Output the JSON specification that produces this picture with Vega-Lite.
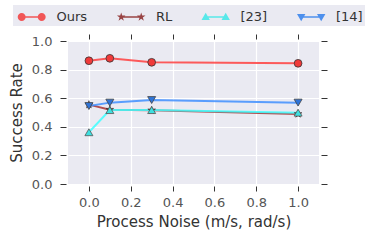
{
  "$schema": "https://vega.github.io/schema/vega-lite/v6.json",
  "width": 251,
  "height": 143,
  "autosize": {"type": "none"},
  "padding": {"left": 68, "top": 41, "right": 64, "bottom": 58},
  "background": "white",
  "config": {
    "view": {"fill": "#eaeaf2", "stroke": null},
    "font": "DejaVu Sans",
    "axis": {
      "labelFont": "DejaVu Sans",
      "labelFontSize": 13,
      "labelColor": "#555555",
      "titleFont": "DejaVu Sans",
      "titleFontSize": 15,
      "titleFontWeight": "normal",
      "titleColor": "#333333",
      "tickColor": "#333333",
      "tickWidth": 1,
      "domain": false,
      "gridColor": "#ffffff",
      "gridWidth": 1.2,
      "gridOpacity": 1
    }
  },
  "data": {
    "values": [
      {"method": "Ours", "x": 0.0, "y": 0.862},
      {"method": "Ours", "x": 0.1, "y": 0.879},
      {"method": "Ours", "x": 0.3, "y": 0.851},
      {"method": "Ours", "x": 1.0, "y": 0.844},
      {"method": "RL", "x": 0.0, "y": 0.555},
      {"method": "RL", "x": 0.1, "y": 0.52},
      {"method": "RL", "x": 0.3, "y": 0.516},
      {"method": "RL", "x": 1.0, "y": 0.49},
      {"method": "[23]", "x": 0.0, "y": 0.362},
      {"method": "[23]", "x": 0.1, "y": 0.517},
      {"method": "[23]", "x": 0.3, "y": 0.517},
      {"method": "[23]", "x": 1.0, "y": 0.499},
      {"method": "[14]", "x": 0.0, "y": 0.545},
      {"method": "[14]", "x": 0.1, "y": 0.569},
      {"method": "[14]", "x": 0.3, "y": 0.587},
      {"method": "[14]", "x": 1.0, "y": 0.569}
    ]
  },
  "resolve": {"axis": {"x": "independent", "y": "independent"}},
  "layer": [
    {
      "mark": {"type": "line", "strokeWidth": 2, "opacity": 0.85},
      "encoding": {
        "x": {
          "field": "x", "type": "quantitative",
          "scale": {"domain": [-0.1, 1.1], "nice": false, "zero": false},
          "axis": {
            "orient": "bottom", "values": [0, 0.2, 0.4, 0.6, 0.8, 1.0], "format": ".1f",
            "offset": 2, "tickSize": 5, "labelPadding": 5, "titlePadding": 5,
            "title": "Process Noise (m/s, rad/s)", "grid": true
          }
        },
        "y": {
          "field": "y", "type": "quantitative",
          "scale": {"domain": [0, 1.0], "nice": false},
          "axis": {
            "orient": "left", "values": [0, 0.2, 0.4, 0.6, 0.8, 1.0], "format": ".1f",
            "offset": 2, "tickSize": 6, "labelPadding": 8, "titlePadding": 7,
            "title": "Success Rate", "grid": true
          }
        },
        "color": {
          "field": "method", "type": "nominal",
          "scale": {"domain": ["Ours", "RL", "[23]", "[14]"], "range": ["#ff4040", "#a83232", "#40ffff", "#3f8fff"]},
          "legend": {
            "orient": "none",
            "legendX": -55,
            "legendY": -36,
            "direction": "horizontal",
            "columns": 4,
            "columnPadding": 26.5,
            "rowPadding": 0,
            "title": null,
            "padding": 2,
            "fillColor": "#eaeaf2",
            "strokeColor": null,
            "symbolSize": 400,
            "symbolStrokeWidth": 0,
            "labelOffset": 21.5,
            "labelFont": "DejaVu Sans",
            "labelFontSize": 13,
            "labelColor": "#333333"
          }
        }
      }
    },
    {
      "mark": {"type": "point", "filled": true, "size": 0, "opacity": 1},
      "encoding": {
        "x": {"field": "x", "type": "quantitative", "axis": null},
        "y": {"field": "y", "type": "quantitative", "axis": null},
        "shape": {
          "field": "method", "type": "nominal",
          "scale": {"domain": ["Ours", "RL", "[23]", "[14]"], "range": [
            "M-0.33,-0.08L1.67,-0.08L1.67,0.08L-0.33,0.08ZM-0.73,0A0.4,0.4 0 1,1 0.07,0A0.4,0.4 0 1,1 -0.73,0ZM1.27,0A0.4,0.4 0 1,1 2.07,0A0.4,0.4 0 1,1 1.27,0Z",
            "M-0.33,-0.08L1.67,-0.08L1.67,0.08L-0.33,0.08ZM-0.33,-0.45L-0.23,-0.138L0.098,-0.139L-0.168,0.053L-0.065,0.364L-0.33,0.171L-0.595,0.364L-0.492,0.053L-0.758,-0.139L-0.43,-0.138ZM1.67,-0.45L1.77,-0.138L2.098,-0.139L1.832,0.053L1.935,0.364L1.67,0.171L1.405,0.364L1.508,0.053L1.242,-0.139L1.57,-0.138Z",
            "M-0.33,-0.08L1.67,-0.08L1.67,0.08L-0.33,0.08ZM-0.33,-0.42L0.09,0.3L-0.75,0.3ZM1.67,-0.42L2.09,0.3L1.25,0.3Z",
            "M-0.33,-0.08L1.67,-0.08L1.67,0.08L-0.33,0.08ZM-0.75,-0.3L0.09,-0.3L-0.33,0.42ZM1.25,-0.3L2.09,-0.3L1.67,0.42Z"
          ]},
          "legend": null
        },
        "fill": {
          "field": "method", "type": "nominal",
          "scale": {"domain": ["Ours", "RL", "[23]", "[14]"], "range": ["#f23c3c", "#8a2626", "#3ee8e8", "#3380ec"]},
          "legend": null
        }
      }
    },
    {
      "transform": [{"filter": "datum.method === 'Ours'"}],
      "mark": {"type": "point", "shape": "circle", "filled": true, "size": 60, "fill": "#f03a3a", "stroke": "#333333", "strokeWidth": 0.8, "opacity": 1},
      "encoding": {
        "x": {
          "field": "x", "type": "quantitative",
          "axis": {"orient": "top", "values": [0, 0.2, 0.4, 0.6, 0.8, 1.0], "labels": false, "title": null, "grid": false, "offset": 2, "tickSize": 5}
        },
        "y": {
          "field": "y", "type": "quantitative",
          "axis": {"orient": "right", "values": [0, 0.2, 0.4, 0.6, 0.8, 1.0], "labels": false, "title": null, "grid": false, "offset": 2, "tickSize": 6}
        }
      }
    },
    {
      "transform": [{"filter": "datum.method === 'RL'"}],
      "mark": {"type": "point", "shape": "M0,-1L0.223,-0.307L0.951,-0.309L0.361,0.117L0.588,0.809L0,0.38L-0.588,0.809L-0.361,0.117L-0.951,-0.309L-0.223,-0.307Z", "filled": true, "size": 64, "fill": "#7a1f1f", "stroke": "#333333", "strokeWidth": 0.6, "opacity": 1},
      "encoding": {
        "x": {"field": "x", "type": "quantitative", "axis": null},
        "y": {"field": "y", "type": "quantitative", "axis": null}
      }
    },
    {
      "transform": [{"filter": "datum.method === '[23]'"}],
      "mark": {"type": "point", "shape": "triangle-up", "filled": true, "size": 64, "fill": "#3de0e0", "stroke": "#555555", "strokeWidth": 0.8, "opacity": 1},
      "encoding": {
        "x": {"field": "x", "type": "quantitative", "axis": null},
        "y": {"field": "y", "type": "quantitative", "axis": null}
      }
    },
    {
      "transform": [{"filter": "datum.method === '[14]'"}],
      "mark": {"type": "point", "shape": "triangle-down", "filled": true, "size": 64, "fill": "#2f74d8", "stroke": "#444444", "strokeWidth": 0.8, "opacity": 1},
      "encoding": {
        "x": {"field": "x", "type": "quantitative", "axis": null},
        "y": {"field": "y", "type": "quantitative", "axis": null}
      }
    }
  ]
}
